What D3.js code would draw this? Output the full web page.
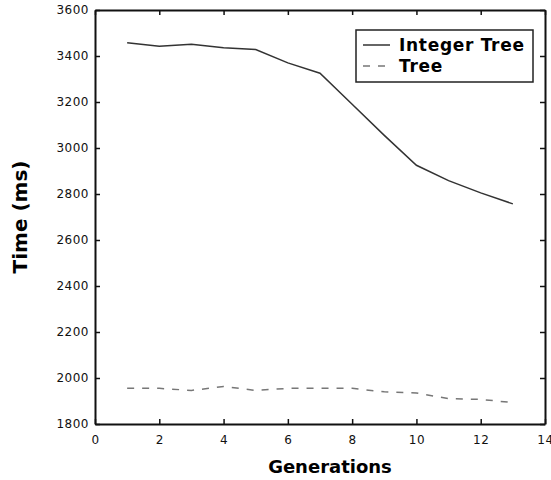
<!DOCTYPE html>
<html>
<head>
<meta charset="utf-8">
<script src="https://cdn.jsdelivr.net/npm/d3@7"></script>
<style>
  body { margin: 0; background: #fff; }
  svg { display: block; }
</style>
</head>
<body>
<div id="chart"></div>
<script>
// Generations on the x axis.
var generations = [1, 2, 3, 4, 5, 6, 7, 8, 9, 10, 11, 12, 13];

// Time (ms) for each series.
var integerTree = [3458, 3442, 3451, 3436, 3428, 3370, 3325, 3190, 3055, 2925, 2858, 2805, 2757];
var tree = [1955, 1955, 1946, 1963, 1946, 1955, 1955, 1955, 1940, 1935, 1910, 1907, 1893];

var seriesNames = ["Integer Tree", "Tree"];
var xTicks = [0, 2, 4, 6, 8, 10, 12, 14];
var yTicks = [1800, 2000, 2200, 2400, 2600, 2800, 3000, 3200, 3400, 3600];

var width = 551;
var height = 480;
var margin = {top: 10, right: 6, bottom: 56, left: 95};

var svg = d3.select("#chart")
  .append("svg")
  .attr("width", width)
  .attr("height", height);

var x = d3.scaleLinear().domain([0, 14]).range([margin.left, width - margin.right]);
var y = d3.scaleLinear().domain([1800, 3600]).range([height - margin.bottom, margin.top]);

var axisColor = "#111";

// Axes (MATLAB-ish: ticks inward, mirrored on top/right).
var xAxisBottom = svg.append("g")
  .attr("transform", "translate(0," + y(1800) + ")")
  .call(d3.axisBottom(x).tickValues(xTicks).tickSizeInner(-5).tickSizeOuter(0).tickPadding(11));
var yAxisLeft = svg.append("g")
  .attr("transform", "translate(" + x(0) + ",0)")
  .call(d3.axisLeft(y).tickValues(yTicks).tickSizeInner(-5).tickSizeOuter(0).tickPadding(6).tickFormat(d3.format("d")));
var xAxisTop = svg.append("g")
  .attr("transform", "translate(0," + y(3600) + ")")
  .call(d3.axisTop(x).tickValues(xTicks).tickSizeInner(-5).tickSizeOuter(0).tickFormat(""));
var yAxisRight = svg.append("g")
  .attr("transform", "translate(" + x(14) + ",0)")
  .call(d3.axisRight(y).tickValues(yTicks).tickSizeInner(-5).tickSizeOuter(0).tickFormat(""));

[xAxisBottom, yAxisLeft, xAxisTop, yAxisRight].forEach(function (g) {
  g.select(".domain").attr("stroke", axisColor).attr("stroke-width", 2);
  g.selectAll(".tick line").attr("stroke", axisColor).attr("stroke-width", 1.5);
  g.selectAll(".tick text")
    .attr("fill", "#111")
    .style("font-family", "DejaVu Sans")
    .style("font-size", "12px")
    .style("letter-spacing", "0.5px");
});

// Lines.
var line = d3.line()
  .x(function (d, i) { return x(generations[i]); })
  .y(function (d) { return y(d); });

svg.append("path")
  .datum(integerTree)
  .attr("d", line)
  .attr("fill", "none")
  .attr("stroke", "#333")
  .attr("stroke-width", 1.5);

svg.append("path")
  .datum(tree)
  .attr("d", line)
  .attr("fill", "none")
  .attr("stroke", "#777")
  .attr("stroke-width", 1.5)
  .attr("stroke-dasharray", "7,8");

// Axis titles.
svg.append("text")
  .attr("x", 330)
  .attr("y", 473)
  .attr("text-anchor", "middle")
  .style("font-family", "DejaVu Sans")
  .style("font-weight", "bold")
  .style("font-size", "18px")
  .text("Generations");

svg.append("text")
  .attr("transform", "translate(27," + (y(1800) + y(3600)) / 2 + ") rotate(-90)")
  .attr("text-anchor", "middle")
  .style("font-family", "DejaVu Sans")
  .style("font-weight", "bold")
  .style("font-size", "20px")
  .text("Time (ms)");

// Legend.
var legend = svg.append("g").attr("transform", "translate(356,30)");
legend.append("rect")
  .attr("width", 177)
  .attr("height", 52)
  .attr("fill", "#fff")
  .attr("stroke", "#222")
  .attr("stroke-width", 1.5);

var styles = [{color: "#333", dash: null}, {color: "#777", dash: "7,8"}];
seriesNames.forEach(function (name, i) {
  var yy = 15 + i * 21;
  legend.append("line")
    .attr("x1", 7).attr("x2", 34)
    .attr("y1", yy).attr("y2", yy)
    .attr("stroke", styles[i].color)
    .attr("stroke-width", 1.5)
    .attr("stroke-dasharray", styles[i].dash);
  legend.append("text")
    .attr("x", 43)
    .attr("y", yy + 6)
    .style("font-family", "DejaVu Sans")
    .style("font-weight", "bold")
    .style("font-size", "17px")
    .style("letter-spacing", "0.7px")
    .text(name);
});
</script>
</body>
</html>
